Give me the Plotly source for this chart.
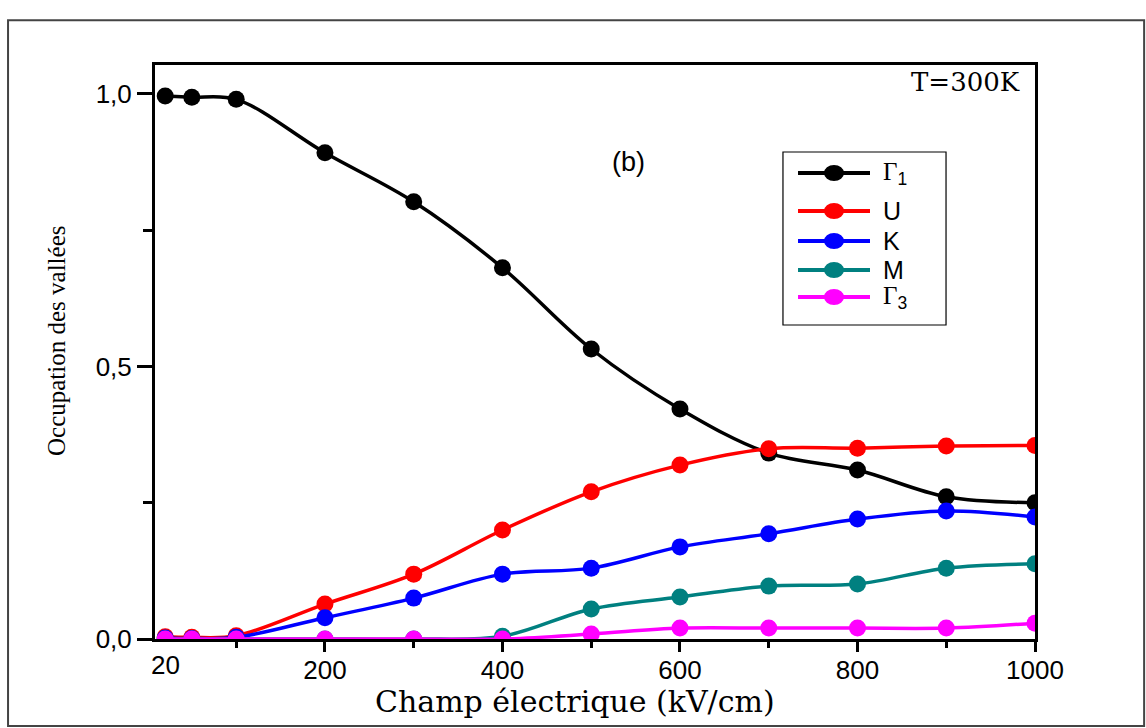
import plotly.graph_objects as go

# ---- data ----
field = [20, 50, 100, 200, 300, 400, 500, 600, 700, 800, 900, 1000]
gamma1 = [0.996, 0.994, 0.990, 0.892, 0.802, 0.681, 0.532, 0.422, 0.341, 0.310, 0.261, 0.250]
u_val = [0.004, 0.003, 0.006, 0.064, 0.119, 0.200, 0.270, 0.319, 0.349, 0.350, 0.354, 0.355]
k_val = [0.002, 0.001, 0.003, 0.039, 0.075, 0.119, 0.130, 0.169, 0.193, 0.220, 0.235, 0.224]
m_val = [0.0, 0.0, 0.0, 0.0, 0.0, 0.005, 0.055, 0.077, 0.097, 0.101, 0.130, 0.138]
gamma3 = [0.0, 0.0, 0.0, 0.0, 0.0, 0.0, 0.009, 0.020, 0.020, 0.020, 0.020, 0.029]

series_names = ["Γ<sub>1</sub>", "U", "K", "M", "Γ<sub>3</sub>"]
series_values = [gamma1, u_val, k_val, m_val, gamma3]
series_colors = ["#000000", "#ff0000", "#0000ff", "#008080", "#ff00ff"]

x_tickvals = [200, 400, 600, 800, 1000]
x_ticktext = ["200", "400", "600", "800", "1000"]
x_first_label = (20, "20")
y_tickvals = [0.0, 0.5, 1.0]
y_ticktext = ["0,0", "0,5", "1,0"]

fig = go.Figure()
for name, vals, col in zip(series_names, series_values, series_colors):
    fig.add_trace(go.Scatter(
        x=field, y=vals, name=name, mode="lines+markers", showlegend=False,
        line=dict(color=col, width=3.5, shape="spline", smoothing=1),
        marker=dict(color=col, size=17, symbol="circle"),
    ))

tick_font = dict(family="Liberation Sans", size=26, color="black")

fig.update_layout(
    width=1146, height=728,
    margin=dict(l=155, r=111, t=65, b=89),
    paper_bgcolor="white", plot_bgcolor="white",
    showlegend=False,
    xaxis=dict(
        range=[8.5, 1000], showgrid=False, zeroline=False,
        showline=True, linecolor="black", linewidth=3, mirror=True,
        ticks="outside", ticklen=10, tickwidth=3, tickcolor="black",
        tickvals=x_tickvals, ticktext=x_ticktext, tickfont=tick_font,
        ticklabelstandoff=-4,
        minor=dict(ticks="outside", ticklen=6, tickwidth=3, tickcolor="black",
                   tick0=0, dtick=100, showgrid=False),
    ),
    yaxis=dict(
        range=[0, 1.053], showgrid=False, zeroline=False,
        showline=True, linecolor="black", linewidth=3, mirror=True,
        ticks="outside", ticklen=15, tickwidth=3, tickcolor="black",
        tickvals=y_tickvals, ticktext=y_ticktext, tickfont=tick_font,
        minor=dict(ticks="outside", ticklen=9, tickwidth=3, tickcolor="black",
                   tick0=0, dtick=0.25, showgrid=False),
    ),
)

# axis titles
fig.add_annotation(x=(575 - 155) / 880, y=(639 - 701) / 574, xref="paper", yref="paper",
                   text="Champ électrique (kV/cm)", showarrow=False,
                   xanchor="center", yanchor="middle",
                   font=dict(family="DejaVu Serif", size=30, color="black"))
fig.add_annotation(x=(56 - 155) / 880, y=(639 - 341) / 574, xref="paper", yref="paper",
                   text="Occupation des vallées", showarrow=False, textangle=-90,
                   xanchor="center", yanchor="middle",
                   font=dict(family="Liberation Serif", size=25, color="black"))

fig.add_annotation(x=x_first_label[0], y=0, xref="x", yref="paper",
                   text=x_first_label[1], showarrow=False, yanchor="top",
                   yshift=-9, font=tick_font)
fig.add_annotation(x=0.985, y=0.970, xref="paper", yref="paper", text="T=300K",
                   showarrow=False, xanchor="right", yanchor="middle",
                   font=dict(family="DejaVu Serif", size=26, color="black"))
fig.add_annotation(x=0.5375, y=0.831, xref="paper", yref="paper", text="(b)",
                   showarrow=False, xanchor="center", yanchor="middle",
                   font=dict(family="Liberation Sans", size=27, color="black"))

# custom legend (box, line samples, markers, labels)
leg_box = dict(x0=0.7136, x1=0.8989, y0=0.547, y1=0.8484)
leg_rows = [0.8118, 0.7456, 0.6934, 0.6429, 0.5958]
leg_line_x = (0.7307, 0.8125)
leg_marker_x = 0.7716
leg_text_x = 0.825
fig.add_shape(type="rect", xref="paper", yref="paper", **leg_box,
              line=dict(color="black", width=1.2), fillcolor="white")
for name, col, ry in zip(series_names, series_colors, leg_rows):
    fig.add_shape(type="line", xref="paper", yref="paper",
                  x0=leg_line_x[0], x1=leg_line_x[1], y0=ry, y1=ry,
                  line=dict(color=col, width=4))
    fig.add_shape(type="circle", xref="paper", yref="paper",
                  xsizemode="pixel", ysizemode="pixel",
                  xanchor=leg_marker_x, yanchor=ry,
                  x0=-10, x1=10, y0=-8, y1=8,
                  line=dict(width=0), fillcolor=col)
    label = name.replace("Γ", "<span style='font-family:Liberation Serif'>Γ</span>")
    fig.add_annotation(x=leg_text_x, y=ry, xref="paper", yref="paper",
                       text=label, showarrow=False, xanchor="left",
                       yanchor="middle",
                       font=dict(family="Liberation Sans", size=25, color="black"))

# outer frame
fig.add_shape(type="rect", xref="paper", yref="paper",
              x0=-0.167, x1=1.124, y0=-0.1516, y1=1.078,
              line=dict(color="#444444", width=2), fillcolor="rgba(0,0,0,0)",
              layer="below")

fig.write_html("out.html")
